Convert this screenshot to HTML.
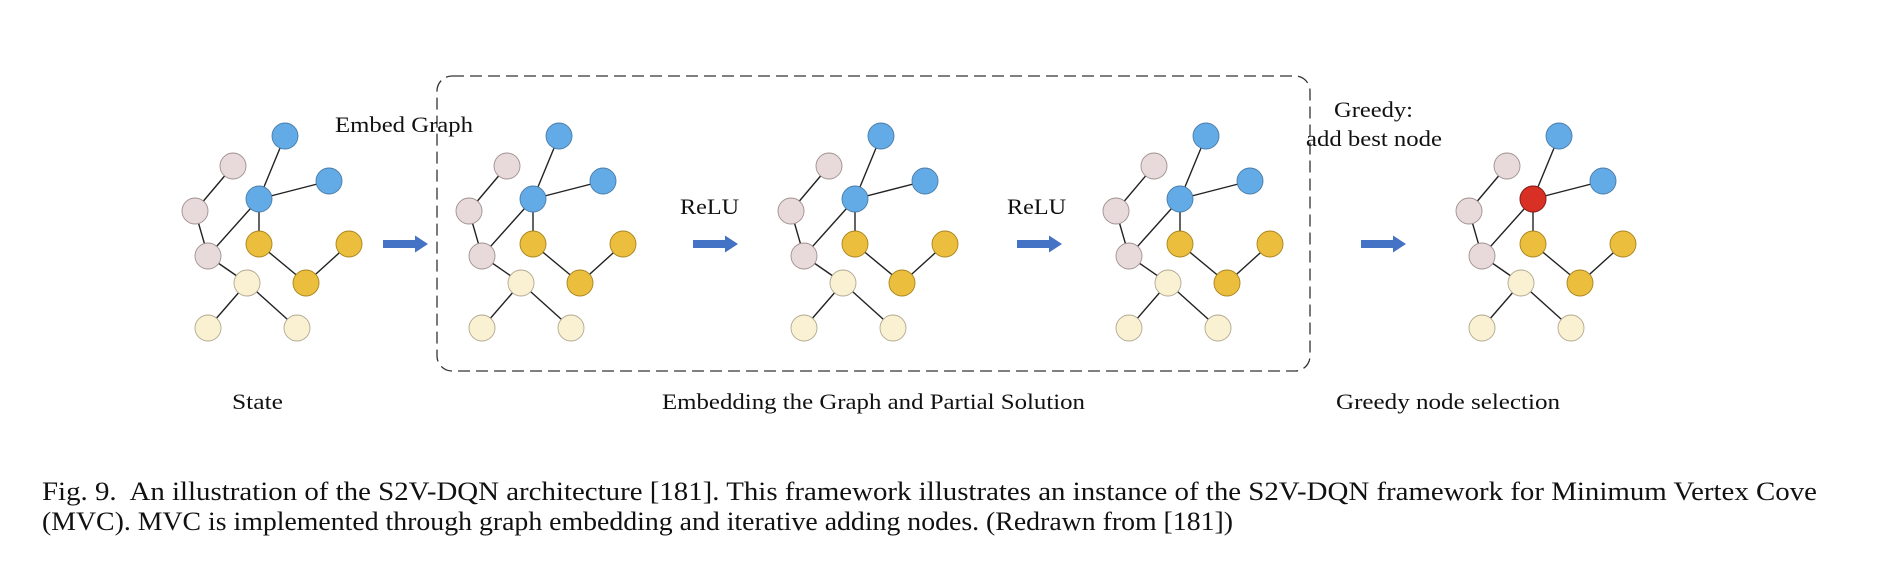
<!DOCTYPE html>
<html><head><meta charset="utf-8"><style>
html,body{margin:0;padding:0;background:#fff;}
svg{display:block;}
text{font-family:"Liberation Serif",serif;fill:#111;}
</style></head><body>
<svg width="1887" height="563" viewBox="0 0 1887 563" xmlns="http://www.w3.org/2000/svg">
<defs>
<g id="g">
  <g stroke="#222" stroke-width="1.4">
    <line x1="285" y1="136" x2="259" y2="199"/>
    <line x1="259" y1="199" x2="329" y2="181"/>
    <line x1="259" y1="199" x2="259" y2="244"/>
    <line x1="259" y1="199" x2="208" y2="256"/>
    <line x1="233" y1="166" x2="195" y2="211"/>
    <line x1="195" y1="211" x2="208" y2="256"/>
    <line x1="208" y1="256" x2="247" y2="283"/>
    <line x1="259" y1="244" x2="306" y2="283"/>
    <line x1="306" y1="283" x2="349" y2="244"/>
    <line x1="247" y1="283" x2="208" y2="328"/>
    <line x1="247" y1="283" x2="297" y2="328"/>
  </g>
  <g stroke-width="0.9">
    <circle cx="285" cy="136" r="13" fill="#63ABE6" stroke="#4a7ca8"/>
    <circle cx="329" cy="181" r="13" fill="#63ABE6" stroke="#4a7ca8"/>
    <circle cx="259" cy="199" r="13" fill="#63ABE6" stroke="#4a7ca8"/>
    <circle cx="233" cy="166" r="13" fill="#E8DADA" stroke="#a09090"/>
    <circle cx="195" cy="211" r="13" fill="#E8DADA" stroke="#a09090"/>
    <circle cx="208" cy="256" r="13" fill="#E8DADA" stroke="#a09090"/>
    <circle cx="259" cy="244" r="13" fill="#EBBE3E" stroke="#a8841e"/>
    <circle cx="349" cy="244" r="13" fill="#EBBE3E" stroke="#a8841e"/>
    <circle cx="306" cy="283" r="13" fill="#EBBE3E" stroke="#a8841e"/>
    <circle cx="247" cy="283" r="13" fill="#FAF0D2" stroke="#b0a890"/>
    <circle cx="208" cy="328" r="13" fill="#FAF0D2" stroke="#b0a890"/>
    <circle cx="297" cy="328" r="13" fill="#FAF0D2" stroke="#b0a890"/>
  </g>
</g>
<path id="a" d="M0,-4 L32,-4 L32,-8.5 L45,0 L32,8.5 L32,4 L0,4 Z" fill="#4472C4"/>
</defs>

<use href="#g"/>
<use href="#g" transform="translate(274,0)"/>
<use href="#g" transform="translate(596,0)"/>
<use href="#g" transform="translate(921,0)"/>
<use href="#g" transform="translate(1274,0)"/>
<circle cx="1533" cy="199" r="13" fill="#D93025" stroke="#8a1a10" stroke-width="0.9"/>

<use href="#a" transform="translate(383,244)"/>
<use href="#a" transform="translate(693,244)"/>
<use href="#a" transform="translate(1017,244)"/>
<use href="#a" transform="translate(1361,244)"/>

<rect x="437" y="76" width="873" height="295" rx="15" ry="15" fill="none" stroke="#333" stroke-width="1.3" stroke-dasharray="12,6"/>

<text x="335" y="132" font-size="22" textLength="138" lengthAdjust="spacingAndGlyphs">Embed Graph</text>
<text x="680" y="214" font-size="22" textLength="59" lengthAdjust="spacingAndGlyphs">ReLU</text>
<text x="1007" y="214" font-size="22" textLength="59" lengthAdjust="spacingAndGlyphs">ReLU</text>
<text x="1334" y="117" font-size="22" textLength="79" lengthAdjust="spacingAndGlyphs">Greedy:</text>
<text x="1306" y="146" font-size="22" textLength="136" lengthAdjust="spacingAndGlyphs">add best node</text>

<text x="232" y="409" font-size="22" textLength="51" lengthAdjust="spacingAndGlyphs">State</text>
<text x="662" y="409" font-size="22" textLength="423" lengthAdjust="spacingAndGlyphs">Embedding the Graph and Partial Solution</text>
<text x="1336" y="409" font-size="22" textLength="224" lengthAdjust="spacingAndGlyphs">Greedy node selection</text>

<text x="42" y="500" font-size="26" textLength="1775" lengthAdjust="spacingAndGlyphs" xml:space="preserve">Fig. 9.  An illustration of the S2V-DQN architecture [181]. This framework illustrates an instance of the S2V-DQN framework for Minimum Vertex Cove</text>
<text x="42" y="530" font-size="26" textLength="1191" lengthAdjust="spacingAndGlyphs">(MVC). MVC is implemented through graph embedding and iterative adding nodes. (Redrawn from [181])</text>
</svg>
</body></html>
